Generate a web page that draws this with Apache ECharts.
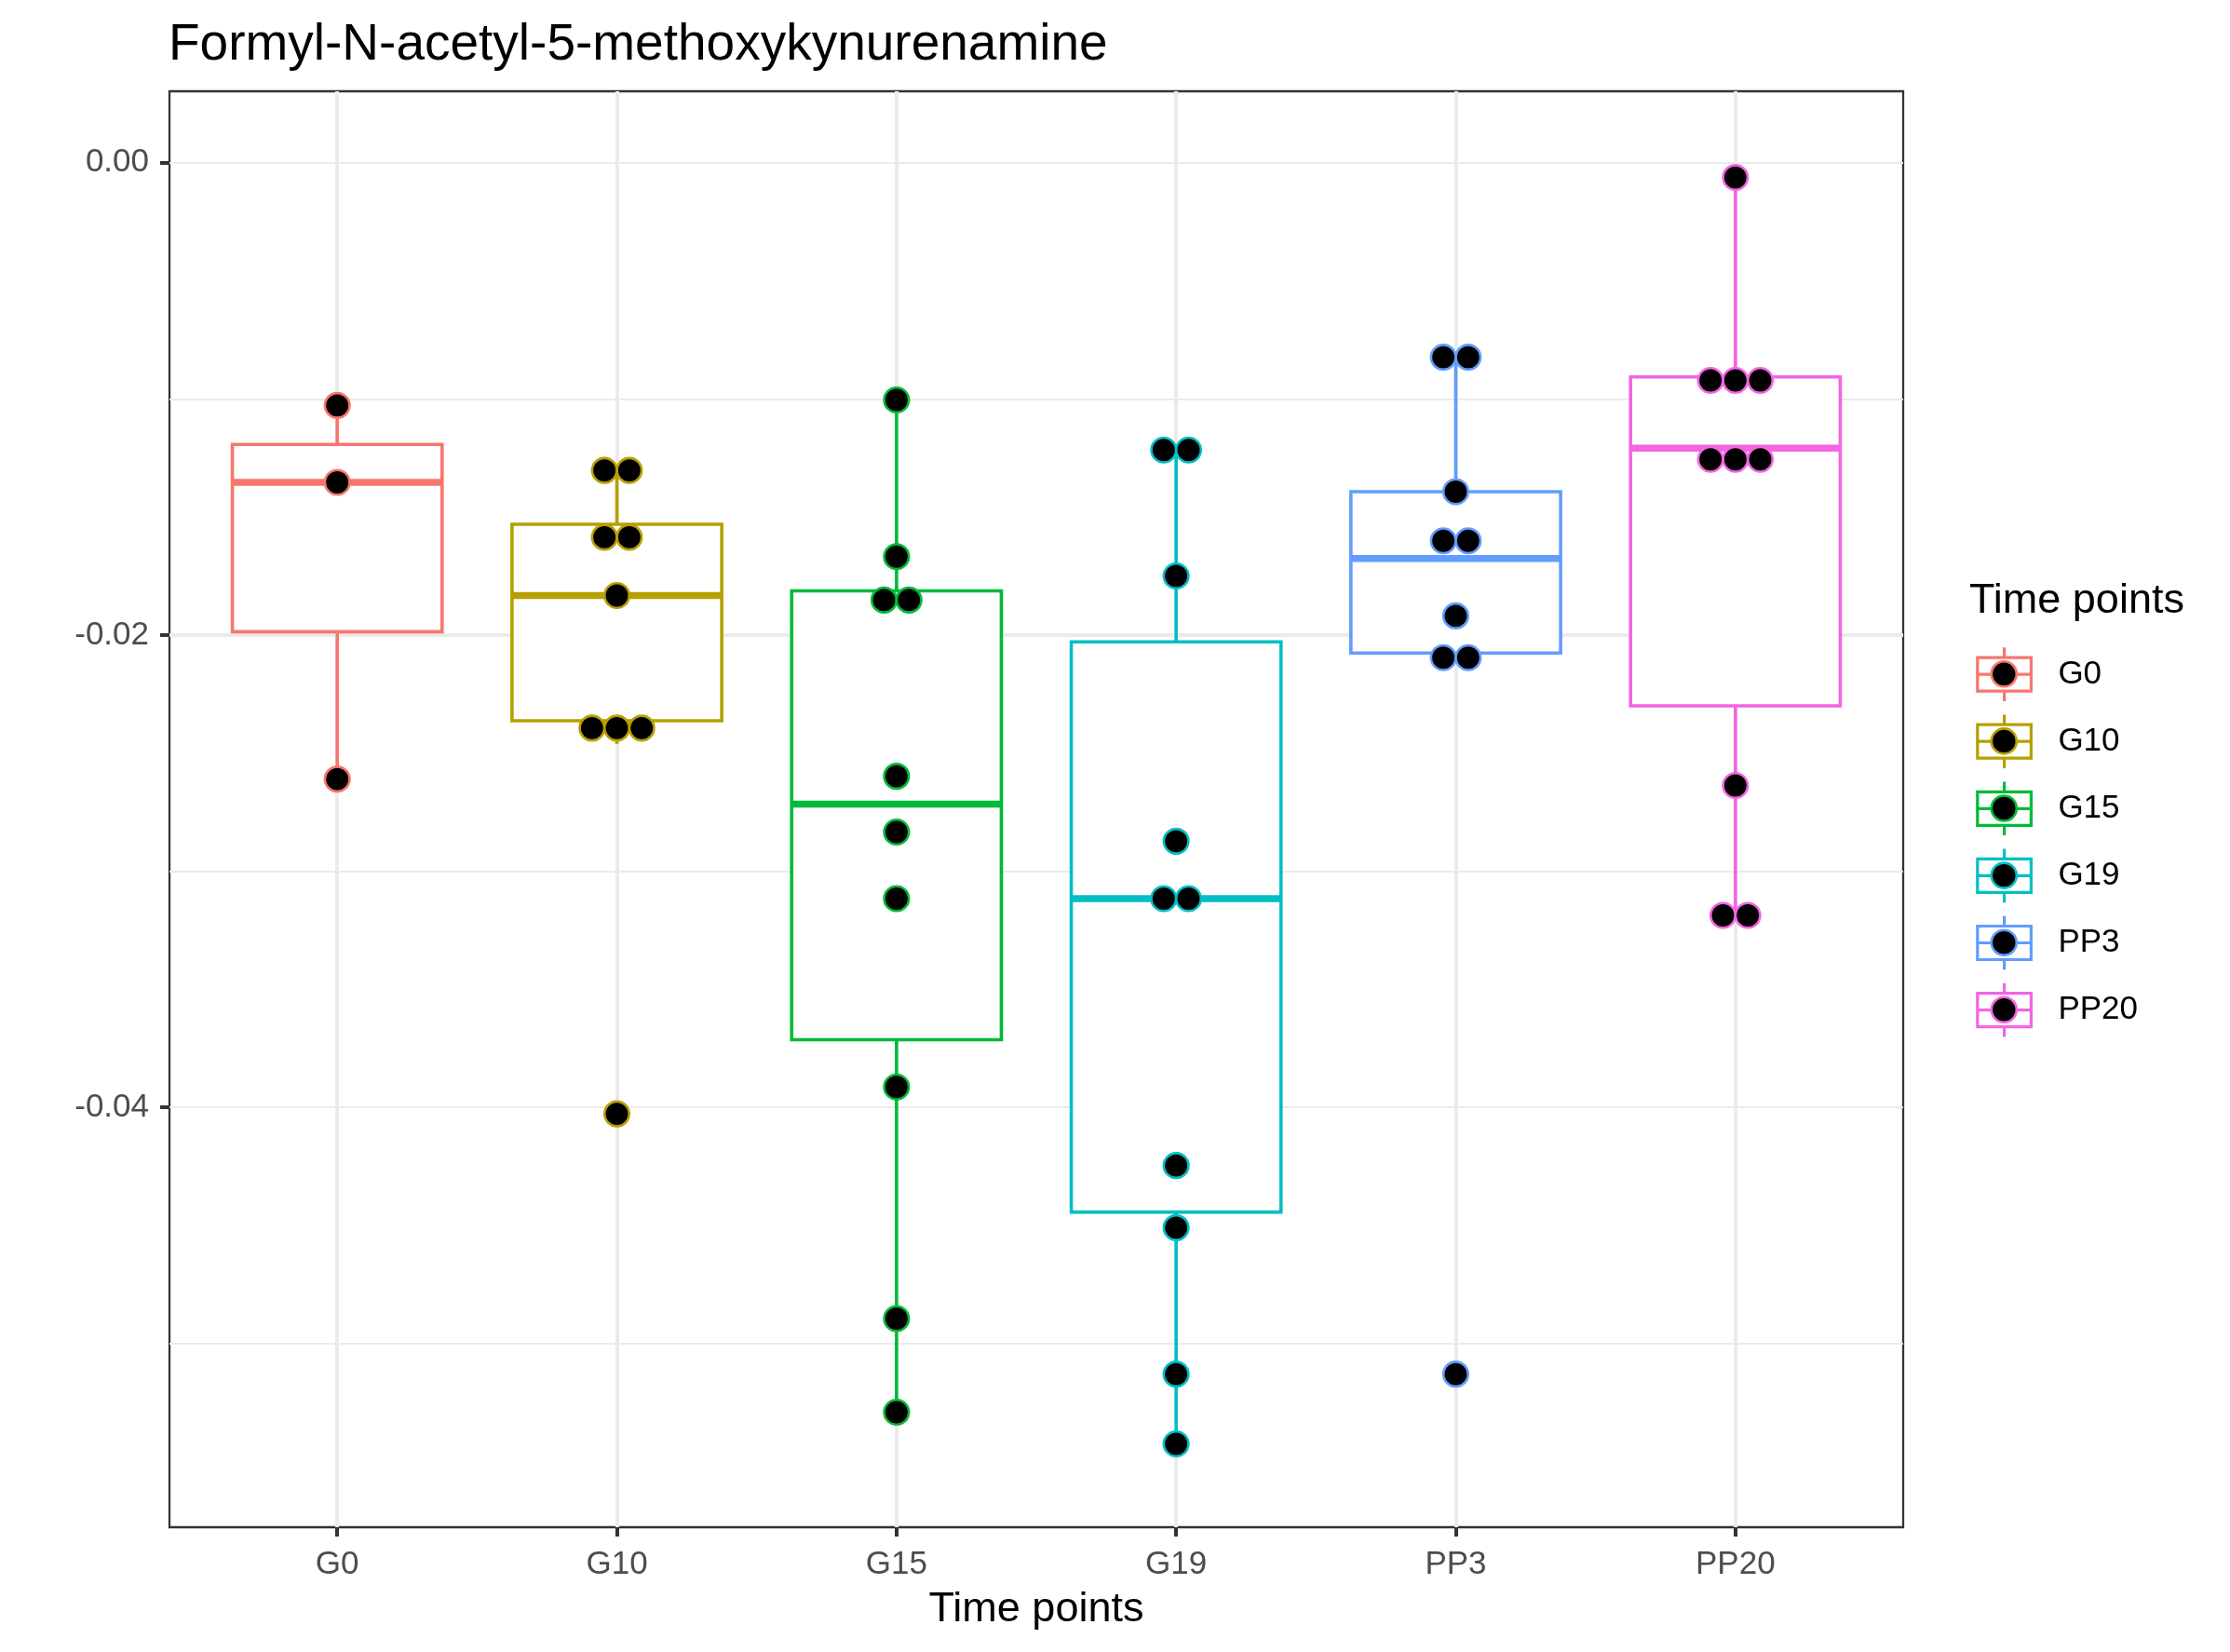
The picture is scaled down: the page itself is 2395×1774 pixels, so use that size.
<!DOCTYPE html>
<html>
<head>
<meta charset="utf-8">
<script src="https://cdn.jsdelivr.net/npm/echarts@6/dist/echarts.min.js"></script>
<style>
html,body{margin:0;padding:0;background:#ffffff;}
#chart{width:2395px;height:1774px;}
</style>
</head>
<body>
<div id="chart"></div>
<script>
// ---------------- data ----------------
const categories = ['G0', 'G10', 'G15', 'G19', 'PP3', 'PP20'];

// individual observations (dot positions)
const pointsG0   = [-0.01028, -0.01354, -0.02610];
const pointsG10  = [-0.01303, -0.01303, -0.01586, -0.01586, -0.01833, -0.02394, -0.02394, -0.02394, -0.04027];
const pointsG15  = [-0.01005, -0.01668, -0.01852, -0.01852, -0.02598, -0.02834, -0.03116, -0.03913, -0.04894, -0.05290];
const pointsG19  = [-0.01217, -0.01217, -0.01750, -0.02873, -0.03116, -0.03116, -0.04246, -0.04509, -0.05129, -0.05424];
const pointsPP3  = [-0.00824, -0.00824, -0.01393, -0.01601, -0.01601, -0.01919, -0.02096, -0.02096, -0.05129];
const pointsPP20 = [-0.00063, -0.00922, -0.00922, -0.00922, -0.01256, -0.01256, -0.01256, -0.02637, -0.03187, -0.03187];

// box statistics: [lower whisker, Q1, median, Q3, upper whisker]
const boxG0   = [-0.02610, -0.01986, -0.01354, -0.01193, -0.01028];
const boxG10  = [-0.02461, -0.02363, -0.01833, -0.01531, -0.01290];
const boxG15  = [-0.05290, -0.03713, -0.02716, -0.01813, -0.01005];
const boxG19  = [-0.05424, -0.04443, -0.03116, -0.02029, -0.01217];
const boxPP3  = [-0.02115, -0.02076, -0.01676, -0.01393, -0.00824];
const boxPP20 = [-0.03187, -0.02300, -0.01209, -0.00907, -0.00063];

const yTickValues = [0, -0.02, -0.04];
const yMin = -0.05777;
const yMax = 0.00302;

// ---------------- styling ----------------
const palette = ['#F8766D', '#B79F00', '#00BA38', '#00BFC4', '#619CFF', '#F564E3'];
const FONT = "'Liberation Sans', Arial, Helvetica, sans-serif";
const DOT_STEP = 26.7;
const BOX_LW = 3.6;
const MED_LW = 7.4;

const pointSets = [pointsG0, pointsG10, pointsG15, pointsG19, pointsPP3, pointsPP20];
const boxSets = [boxG0, boxG10, boxG15, boxG19, boxPP3, boxPP20];

function stackOffsets(vals) {
  const counts = {};
  vals.forEach(v => { counts[v] = (counts[v] || 0) + 1; });
  const seen = {};
  return vals.map(v => {
    const k = counts[v];
    seen[v] = seen[v] === undefined ? 0 : seen[v] + 1;
    return (seen[v] - (k - 1) / 2) * DOT_STEP;
  });
}

function renderBox(params, api) {
  const x = api.value(0);
  const low = api.coord([x, api.value(1)]);
  const q1 = api.coord([x, api.value(2)]);
  const med = api.coord([x, api.value(3)]);
  const q3 = api.coord([x, api.value(4)]);
  const high = api.coord([x, api.value(5)]);
  const halfW = api.size([1, 0])[0] * 0.375;
  const color = api.visual('color');
  const cx = low[0];
  return {
    type: 'group',
    children: [
      { type: 'line', shape: { x1: cx, y1: high[1], x2: cx, y2: q3[1] }, style: { stroke: color, lineWidth: BOX_LW } },
      { type: 'line', shape: { x1: cx, y1: q1[1], x2: cx, y2: low[1] }, style: { stroke: color, lineWidth: BOX_LW } },
      { type: 'rect', shape: { x: cx - halfW, y: q3[1], width: 2 * halfW, height: q1[1] - q3[1] },
        style: { fill: '#ffffff', stroke: color, lineWidth: BOX_LW } },
      { type: 'line', shape: { x1: cx - halfW, y1: med[1], x2: cx + halfW, y2: med[1] },
        style: { stroke: color, lineWidth: MED_LW } }
    ]
  };
}

const series = [];
categories.forEach((cat, i) => {
  series.push({
    type: 'custom',
    name: cat,
    xAxisIndex: 1,
    yAxisIndex: 2,
    clip: false,
    z: 2,
    silent: true,
    itemStyle: { color: palette[i], borderColor: palette[i] },
    renderItem: renderBox,
    encode: { x: 0, y: [1, 2, 3, 4, 5] },
    data: [[i].concat(boxSets[i])]
  });
});
categories.forEach((cat, i) => {
  const offs = stackOffsets(pointSets[i]);
  series.push({
    type: 'scatter',
    name: cat,
    xAxisIndex: 1,
    yAxisIndex: 2,
    clip: false,
    z: 3,
    silent: true,
    symbol: 'circle',
    symbolSize: 26.5,
    itemStyle: { color: '#000000', borderColor: palette[i], borderWidth: 2.6, opacity: 1 },
    data: pointSets[i].map((v, j) => ({ value: [i, v], symbolOffset: [offs[j], 0] }))
  });
});

const glyphPath = 'path://M0,10.8 L57.6,10.8 L57.6,46.8 L0,46.8 Z M28.8,0 L28.8,10.8 M28.8,46.8 L28.8,57.6 M0,28.8 L57.6,28.8';

const option = {
  animation: false,
  backgroundColor: '#ffffff',
  title: [
    { text: 'Formyl-N-acetyl-5-methoxykynurenamine', left: 181, top: 21, padding: 0,
      textStyle: { fontFamily: FONT, fontSize: 55, fontWeight: 'normal', color: '#000000' } },
    { text: 'Time points', left: 2115, top: 623, padding: 0,
      textStyle: { fontFamily: FONT, fontSize: 45, fontWeight: 'normal', color: '#000000' } }
  ],
  legend: [
    {
      orient: 'vertical', left: 2122.2, top: 693.7, padding: 0,
      itemWidth: 57.6, itemHeight: 57.6, itemGap: 11.3,
      selectedMode: false,
      icon: glyphPath,
      textStyle: { fontFamily: FONT, fontSize: 35, color: '#000000', padding: [0, 0, 0, 24] },
      data: categories.map((c, i) => ({ name: c, itemStyle: { color: 'rgba(0,0,0,0)', borderColor: palette[i], borderWidth: 3.2 } }))
    },
    {
      orient: 'vertical', left: 2137.5, top: 709, padding: 0,
      itemWidth: 27, itemHeight: 27, itemGap: 42.5,
      selectedMode: false,
      icon: 'circle',
      formatter: () => '',
      textStyle: { fontSize: 6, lineHeight: 6 },
      data: categories.map((c, i) => ({ name: c, itemStyle: { color: '#000000', borderColor: palette[i], borderWidth: 2.6 } }))
    }
  ],
  grid: [
    { left: 182, top: 98, width: 1862, height: 1542, containLabel: false,
      show: true, backgroundColor: '#ffffff', borderColor: '#333333', borderWidth: 2.3 },
    { left: 362.2, top: 98, width: 1501.6, height: 1542, containLabel: false, show: false }
  ],
  xAxis: [
    { gridIndex: 0, type: 'value', min: 0, max: 1, show: false, axisLine: { onZero: false } },
    {
      gridIndex: 1, type: 'value', min: 0, max: 5, interval: 1, position: 'bottom',
      name: 'Time points', nameLocation: 'middle', nameGap: 66,
      nameTextStyle: { fontFamily: FONT, fontSize: 45, color: '#000000' },
      axisLine: { show: false, onZero: false },
      axisTick: { show: true, length: 10, lineStyle: { color: '#333333', width: 4 } },
      axisLabel: { show: true, margin: 23, fontFamily: FONT, fontSize: 35, color: '#4D4D4D',
        formatter: v => categories[Math.round(v)] },
      splitLine: { show: true, showMinLine: true, showMaxLine: true, lineStyle: { color: '#EBEBEB', width: 4 } }
    }
  ],
  yAxis: [
    {
      gridIndex: 0, type: 'value', min: yMin, max: yMax, minInterval: 0.02, maxInterval: 0.02, position: 'left',
      axisLine: { show: false, onZero: false },
      axisTick: { show: true, length: 10, customValues: yTickValues, lineStyle: { color: '#333333', width: 4 } },
      axisLabel: { show: true, margin: 22, customValues: yTickValues, fontFamily: FONT, fontSize: 35, color: '#4D4D4D',
        formatter: v => {
          const r = Math.round(v * 100);
          return (Math.abs(v * 100 - r) < 1e-6 && r % 2 === 0) ? v.toFixed(2) : '';
        } },
      splitLine: { show: true, showMinLine: false, showMaxLine: false, lineStyle: { color: '#EBEBEB', width: 4 } }
    },
    {
      gridIndex: 0, type: 'value', min: yMin, max: yMax, minInterval: 0.01, maxInterval: 0.01, position: 'right',
      axisLine: { show: false, onZero: false }, axisTick: { show: false }, axisLabel: { show: false },
      splitLine: { show: true, showMinLine: false, showMaxLine: false, lineStyle: { color: '#EBEBEB', width: 2 } }
    },
    { gridIndex: 1, type: 'value', min: yMin, max: yMax, show: false, axisLine: { onZero: false } }
  ],
  series: series
};

const chart = echarts.init(document.getElementById('chart'), null, { renderer: 'canvas', width: 2395, height: 1774 });
chart.setOption(option);
</script>
</body>
</html>
